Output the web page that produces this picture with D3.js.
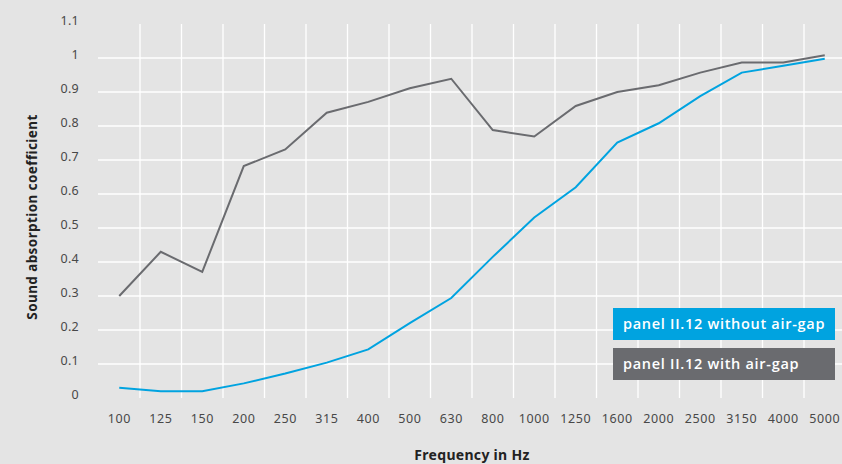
<!DOCTYPE html>
<html><head><meta charset="utf-8">
<script src="https://cdn.jsdelivr.net/npm/d3@7"></script>
<style>
html,body{margin:0;padding:0;background:#e4e4e4;}
svg{display:block;font-family:"Noto Sans",sans-serif;}
</style></head>
<body><svg id="c" width="842" height="464"></svg>
<script>
const categories = ["100","125","150","200","250","315","400","500","630","800","1000","1250","1600","2000","2500","3150","4000","5000"];
const withoutAirGap = [0.03,0.02,0.02,0.043,0.072,0.104,0.143,0.22,0.294,0.415,0.531,0.62,0.751,0.808,0.888,0.957,0.977,0.998];
const withAirGap = [0.30,0.43,0.371,0.682,0.731,0.839,0.871,0.911,0.939,0.788,0.769,0.859,0.90,0.92,0.957,0.987,0.987,1.008];
const yTicks = [0,0.1,0.2,0.3,0.4,0.5,0.6,0.7,0.8,0.9,1,1.1];
const gridValues = [0.1,0.2,0.3,0.4,0.5,0.6,0.7,0.8,0.9,1];
const seriesNames = ["panel II.12 without air-gap","panel II.12 with air-gap"];
const colors = ["#00a3e0","#6a6b6f"];

const svg = d3.select("#c");
const x = d3.scaleBand().domain(categories).range([98.5, 845.5]);
const y = d3.scaleLinear().domain([0,1.1]).range([398,24]);
const cx = d => x(d) + x.bandwidth()/2;

svg.append("g").selectAll("line").data(gridValues).join("line")
  .attr("x1", 98).attr("x2", 842)
  .attr("y1", d=>y(d)).attr("y2", d=>y(d))
  .attr("stroke","#ffffff").attr("stroke-width",1.3);
svg.append("g").selectAll("line").data(categories.slice(1)).join("line")
  .attr("x1", d=>x(d)).attr("x2", d=>x(d))
  .attr("y1", y(1.1)).attr("y2", y(0))
  .attr("stroke","#ffffff").attr("stroke-width",1.3);

const yAxis = d3.axisLeft(y).tickValues(yTicks).tickSize(0).tickPadding(0)
  .tickFormat(d => d3.format("")(+d.toFixed(1)));
const ya = svg.append("g").attr("transform","translate(79,-4)").call(yAxis);
ya.select(".domain").remove();
ya.selectAll("text").attr("font-size",12.5).attr("fill","#484848")
  .attr("font-family","'Noto Sans',sans-serif").attr("letter-spacing","0.3px");

const xAxis = d3.axisBottom(x).tickSize(0).tickPadding(0);
const xa = svg.append("g").attr("transform","translate(0,414)").call(xAxis);
xa.select(".domain").remove();
xa.selectAll("text").attr("font-size",12.5).attr("fill","#484848")
  .attr("font-family","'Noto Sans',sans-serif").attr("letter-spacing","0.6px");

svg.append("text").attr("x",472).attr("y",460).attr("text-anchor","middle")
  .attr("font-size",14).attr("font-weight","bold").attr("fill","#222")
  .attr("letter-spacing","0.3px").text("Frequency in Hz");
svg.append("text").attr("transform","translate(37,217) rotate(-90)").attr("text-anchor","middle")
  .attr("font-size",13.5).attr("font-weight","bold").attr("fill","#222")
  .attr("letter-spacing","0.4px").text("Sound absorption coefficient");

const line = d3.line().x((d,i)=>cx(categories[i])).y(d=>y(d));
svg.append("path").datum(withAirGap).attr("d",line).attr("fill","none")
  .attr("stroke",colors[1]).attr("stroke-width",2);
svg.append("path").datum(withoutAirGap).attr("d",line).attr("fill","none")
  .attr("stroke",colors[0]).attr("stroke-width",2);

const lg = svg.append("g");
seriesNames.forEach((n,i)=>{
  const top = 308 + i*40;
  lg.append("rect").attr("x",613).attr("y",top).attr("width",222).attr("height",32).attr("fill",colors[i]);
  lg.append("text").attr("x",623).attr("y",top+21).attr("font-size",14.5).attr("font-weight",600)
    .attr("font-family","'Open Sans',sans-serif")
    .attr("letter-spacing","0.7px").attr("fill","#fff").text(n);
});
</script></body></html>
